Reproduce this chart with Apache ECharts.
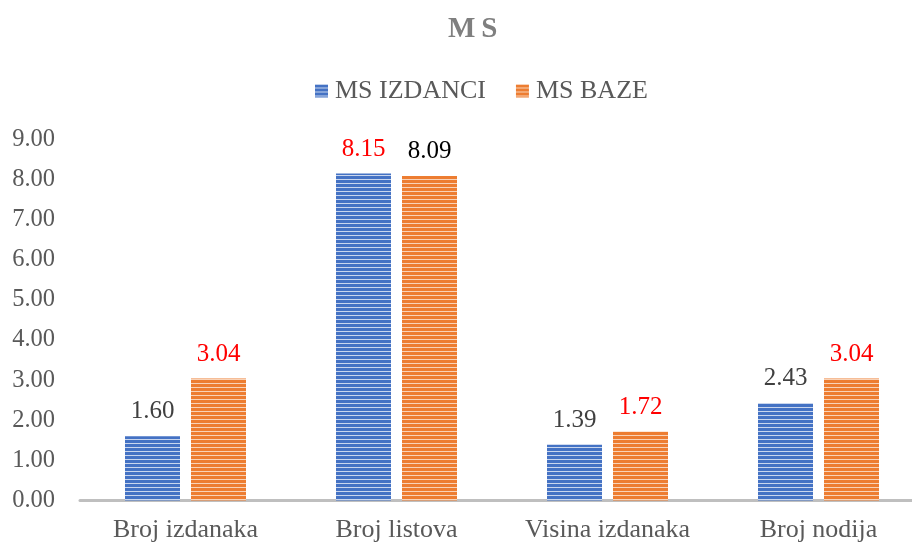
<!DOCTYPE html>
<html>
<head>
<meta charset="utf-8">
<script src="https://cdn.jsdelivr.net/npm/echarts@6/dist/echarts.min.js"></script>
<style>
  html, body { margin: 0; padding: 0; background: #fff; overflow: hidden; }
  #chart { width: 924px; height: 545px; }
</style>
</head>
<body>
<div id="chart"></div>
<script>
// podaci
var categories = ["Broj izdanaka", "Broj listova", "Visina izdanaka", "Broj nodija"];
var izdanci = [1.60, 8.15, 1.39, 2.43];
var baze = [3.04, 8.09, 1.72, 3.04];
// boje oznaka vrijednosti
var izdanciLabelColors = ["#404040", "#FF0000", "#404040", "#404040"];
var bazeLabelColors = ["#FF0000", "#000000", "#FF0000", "#FF0000"];

var font = "'Liberation Serif', 'Times New Roman', serif";

// prugasti uzorak
function stripes(color, light) {
  var c = document.createElement("canvas");
  c.width = 8;
  c.height = 4;
  var ctx = c.getContext("2d");
  ctx.fillStyle = color;
  ctx.fillRect(0, 0, 8, 4);
  ctx.fillStyle = light;
  ctx.fillRect(0, 3, 8, 1);
  return { image: c, repeat: "repeat" };
}

function withColors(values, colors) {
  return values.map(function (v, i) {
    return { value: v, label: { color: colors[i] } };
  });
}

var myChart = echarts.init(document.getElementById("chart"));
myChart.setOption({
  animation: false,
  title: {
    text: "{m|M}{s|S}",
    left: 443,
    top: 10,
    textStyle: {
      color: "#7F7F7F", fontFamily: font, fontSize: 29, fontWeight: "bold",
      rich: {
        m: { color: "#7F7F7F", fontFamily: font, fontSize: 29, fontWeight: "bold" },
        s: { color: "#7F7F7F", fontFamily: font, fontSize: 29, fontWeight: "bold", padding: [0, 0, 0, 6] }
      }
    }
  },
  legend: {
    top: 73,
    left: 310,
    itemWidth: 13,
    itemHeight: 13,
    itemGap: 30,
    icon: "rect",
    textStyle: { color: "#595959", fontFamily: font, fontSize: 26, padding: [0, 0, 0, 2] },
    data: ["MS IZDANCI", "MS BAZE"]
  },
  grid: { left: 80, width: 844, top: 139.5, height: 361 },
  xAxis: {
    type: "category",
    data: categories,
    axisLine: { lineStyle: { color: "#BFBFBF", width: 3 } },
    axisTick: { show: false },
    axisLabel: { interval: 0, color: "#595959", fontFamily: font, fontSize: 26, margin: 17 }
  },
  yAxis: {
    type: "value",
    min: 0,
    max: 9,
    interval: 1,
    splitLine: { show: false },
    axisLine: { show: false },
    axisLabel: {
      color: "#595959",
      fontFamily: font,
      fontSize: 24.5,
      margin: 25,
      formatter: function (v) { return v.toFixed(2); }
    }
  },
  series: [
    {
      name: "MS IZDANCI",
      type: "bar",
      barWidth: 55,
      barGap: "20%",
      itemStyle: { color: stripes("#4472C4", "#C9D6EE") },
      label: {
        show: true,
        position: "top",
        distance: 12,
        fontFamily: font,
        fontSize: 25,
        formatter: function (p) { return p.value.toFixed(2); }
      },
      data: withColors(izdanci, izdanciLabelColors)
    },
    {
      name: "MS BAZE",
      type: "bar",
      barWidth: 55,
      itemStyle: { color: stripes("#ED7D31", "#F9D3B8") },
      label: {
        show: true,
        position: "top",
        distance: 12,
        fontFamily: font,
        fontSize: 25,
        formatter: function (p) { return p.value.toFixed(2); }
      },
      data: withColors(baze, bazeLabelColors)
    }
  ]
});
</script>
</body>
</html>
